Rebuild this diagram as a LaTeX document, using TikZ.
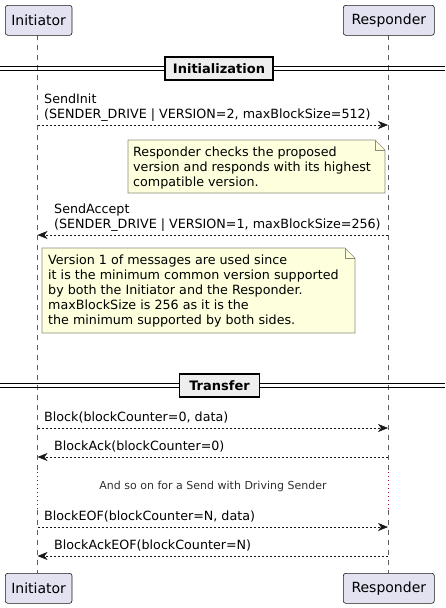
\documentclass[tikz,border=0pt]{standalone}
\usepackage{fontspec}
\setmainfont{DejaVu Sans}
\usetikzlibrary{arrows.meta,calc}
\definecolor{partfill}{HTML}{E2E2F0}
\definecolor{lineclr}{HTML}{181818}
\definecolor{notefill}{HTML}{FEFFDD}
\definecolor{noteline}{HTML}{8A8A80}
\definecolor{divfill}{HTML}{EEEEEE}
\definecolor{delayclr}{HTML}{A80036}
\tikzset{
  part/.style={draw=lineclr, fill=partfill, rounded corners=2.5pt, line width=0.6pt,
    minimum height=30pt, inner xsep=6pt, font=\fontsize{14}{16}\selectfont, anchor=north west},
  life/.style={draw=lineclr!70, line width=0.6pt, dash pattern=on 5pt off 5pt},
  msg/.style={draw=lineclr, line width=0.6pt, dash pattern=on 2pt off 2pt,
    -{Stealth[length=10pt,width=8pt,inset=3pt]}},
  msgtxt/.style={font=\fontsize{12.7}{15}\selectfont, anchor=west, inner sep=0pt, align=left},
  notetxt/.style={font=\fontsize{12.7}{15}\selectfont, anchor=north west, inner sep=0pt, align=left},
  notebox/.style={draw=noteline, fill=notefill, line width=0.6pt},
  divline/.style={draw=black, line width=0.8pt},
  divbox/.style={draw=black, fill=divfill, line width=1.6pt, font=\fontsize{13}{15}\selectfont\bfseries,
    minimum height=23pt, inner xsep=8pt},
  delaytxt/.style={font=\fontsize{11}{13}\selectfont, inner sep=0pt, text=lineclr!90}
}
\begin{document}
\begin{tikzpicture}[x=1pt,y=-1pt]
\useasboundingbox (0,0) rectangle (445,608);
% lifelines
\draw[life] (37.5,35) -- (37.5,472);
\draw[life] (37.5,510) -- (37.5,573);
\draw[life] (388,35) -- (388,472);
\draw[life] (388,510) -- (388,573);
\draw[delayclr, line width=0.8pt, dash pattern=on 1pt off 3pt] (37.5,472) -- (37.5,510);
\draw[delayclr, line width=0.8pt, dash pattern=on 1pt off 3pt] (388,472) -- (388,510);
% participants
\node[part, minimum width=64pt] (iTop) at (5,5) {Initiator};
\node[part, minimum width=91pt] (rTop) at (343,5) {Responder};
\node[part, minimum width=64pt] (iBot) at (5,573) {Initiator};
\node[part, minimum width=91pt] (rBot) at (343,573) {Responder};
% Initialization divider
\draw[divline] (0,66) -- (445,66);
\draw[divline] (0,70) -- (445,70);
\node[divbox, minimum width=108pt] (div1) at (219,68.5) {Initialization};
% SendInit
\coordinate (m1a) at (37.5,125);
\coordinate (m1b) at (388,125);
\draw[msg] (m1a) -- (m1b);
\node[msgtxt] (t1) at (44,107.5) {SendInit\\(SENDER\_DRIVE | VERSION=2, maxBlockSize=512)};
% note 1
\draw[notebox] (128,140) -- (375,140) -- (385,150) -- (385,193) -- (128,193) -- cycle;
\draw[notebox, fill=none] (375,140) -- (375,150) -- (385,150);
\node[notetxt] (n1) at (133,146.5) {Responder checks the proposed\\version and responds with its highest\\compatible version.};
% SendAccept
\coordinate (m2a) at (388,235);
\coordinate (m2b) at (37.5,235);
\draw[msg] (m2a) -- (m2b);
\node[msgtxt] (t2) at (54,218) {SendAccept\\(SENDER\_DRIVE | VERSION=1, maxBlockSize=256)};
% note 2
\draw[notebox] (42,248) -- (345,248) -- (355,258) -- (355,333) -- (42,333) -- cycle;
\draw[notebox, fill=none] (345,248) -- (345,258) -- (355,258);
\node[notetxt] (n2) at (48,254.5) {Version 1 of messages are used since\\it is the minimum common version supported\\by both the Initiator and the Responder.\\maxBlockSize is 256 as it is the\\the minimum supported by both sides.};
% Transfer divider
\draw[divline] (0,383) -- (445,383);
\draw[divline] (0,387) -- (445,387);
\node[divbox, minimum width=80pt] (div2) at (219.5,385.5) {Transfer};
% Block
\coordinate (m3a) at (37.5,428);
\coordinate (m3b) at (388,428);
\draw[msg] (m3a) -- (m3b);
\node[msgtxt] (t3) at (44,418) {Block(blockCounter=0, data)};
% BlockAck
\coordinate (m4a) at (388,457);
\coordinate (m4b) at (37.5,457);
\draw[msg] (m4a) -- (m4b);
\node[msgtxt] (t4) at (54,447) {BlockAck(blockCounter=0)};
% delay
\node[delaytxt] (dl) at (213,486) {And so on for a Send with Driving Sender};
% BlockEOF
\coordinate (m5a) at (37.5,527);
\coordinate (m5b) at (388,527);
\draw[msg] (m5a) -- (m5b);
\node[msgtxt] (t5) at (44,517) {BlockEOF(blockCounter=N, data)};
% BlockAckEOF
\coordinate (m6a) at (388,556);
\coordinate (m6b) at (37.5,556);
\draw[msg] (m6a) -- (m6b);
\node[msgtxt] (t6) at (54,546) {BlockAckEOF(blockCounter=N)};
\end{tikzpicture}
\end{document}
